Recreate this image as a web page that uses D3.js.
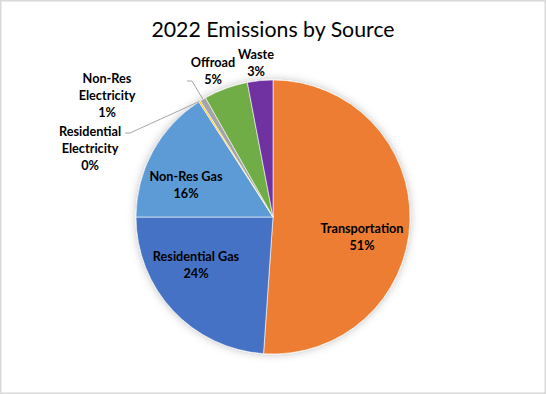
<!DOCTYPE html>
<html>
<head>
<meta charset="utf-8">
<script src="https://cdn.jsdelivr.net/npm/d3@7"></script>
<style>
  body { margin: 0; background: #fff; }
  text { font-family: Lato, "Open Sans", sans-serif; }
</style>
</head>
<body>
<svg id="chart" width="546" height="394"></svg>
<script>
// emissions share by source, percent
const sources = ["Transportation", "Residential Gas", "Non-Res Gas", "Residential Electricity",
                 "Non-Res Electricity", "Offroad", "Waste"];
const shares = [51.1, 23.9, 15.9, 0.2, 0.7, 5.2, 3.0];
const colors = ["#ED7D31", "#4472C4", "#5B9BD5", "#FFC000", "#A5A5A5", "#70AD47", "#7030A0"];

// label lines as they break in the chart
const labelLines = [["Transportation"], ["Residential Gas"], ["Non-Res Gas"],
                    ["Residential", "Electricity"], ["Non-Res", "Electricity"], ["Offroad"], ["Waste"]];

const width = 546, height = 394,
      cx = 273, cy = 217, radius = 137;

// label centre, relative to pie centre
const labelAt = [[89, 20], [-77, 48], [-87, -32], [-183, -69], [-166, -122], [-60, -146], [-17, -154]];

const svg = d3.select("#chart");

svg.append("rect")
  .attr("x", 0.75).attr("y", 0.75)
  .attr("width", width - 1.5).attr("height", height - 1.5)
  .attr("fill", "#fff")
  .attr("stroke", "#d9d9d9")
  .attr("stroke-width", 1.5);

let defs = svg.append("defs");
defs.append("filter")
  .attr("id", "soft")
  .attr("x", "-20%").attr("y", "-20%").attr("width", "140%").attr("height", "140%")
  .append("feDropShadow")
  .attr("dx", 0).attr("dy", 0)
  .attr("stdDeviation", 4)
  .attr("flood-color", "#000")
  .attr("flood-opacity", 0.25);

svg.append("text")
  .attr("x", cx).attr("y", 37)
  .attr("text-anchor", "middle")
  .attr("font-size", 21.3)
  .attr("fill", "#000")
  .text("2022 Emissions by Source");

let data = sources.map((name, i) => ({ name, value: shares[i], color: colors[i], lines: labelLines[i], at: labelAt[i] }));

let pie = d3.pie().sort(null).value(d => d.value),
    arc = d3.arc().innerRadius(0).outerRadius(radius);

let g = svg.append("g").attr("transform", `translate(${cx},${cy})`);

g.append("g")
  .attr("filter", "url(#soft)")
  .selectAll("path")
  .data(pie(data))
  .join("path")
  .attr("d", arc)
  .attr("fill", d => d.data.color)
  .attr("stroke", "#fff")
  .attr("stroke-width", 0.6);

// leader lines for the two thin electricity slices
let edge = d => {
  let a = (d.startAngle + d.endAngle) / 2;
  return [radius * Math.sin(a), -radius * Math.cos(a)];
};
let arcs = pie(data),
    leaders = [
      { d: arcs[3], pts: [[-148, -84], [-143, -84]] },
      { d: arcs[4], pts: [[-86, -136], [-81, -136]] }
    ];

g.selectAll(".leader")
  .data(leaders)
  .join("polyline")
  .attr("class", "leader")
  .attr("points", l => l.pts.concat([edge(l.d)]).map(p => p.join(",")).join(" "))
  .attr("fill", "none")
  .attr("stroke", "#a6a6a6")
  .attr("stroke-width", 1);

let labels = g.selectAll(".label")
  .data(data)
  .join("text")
  .attr("class", "label")
  .attr("text-anchor", "middle")
  .attr("font-size", 12.7)
  .attr("font-weight", "bold")
  .attr("fill", "#000");

labels.each(function(d) {
  let t = d3.select(this),
      rows = d.lines.concat([Math.round(d.value) + "%"]),
      top = d.at[1] - (rows.length - 1) * 17 / 2 + 4.5;
  rows.forEach((row, i) => {
    t.append("tspan")
      .attr("x", d.at[0])
      .attr("y", top + i * 17)
      .text(row);
  });
});
</script>
</body>
</html>
